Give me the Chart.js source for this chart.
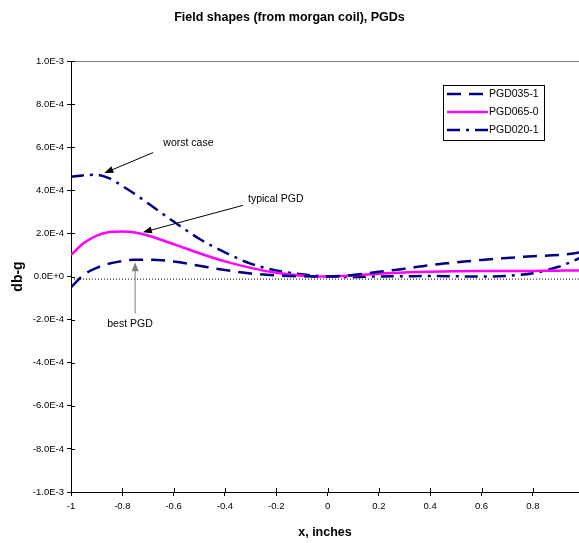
<!DOCTYPE html>
<html>
<head>
<meta charset="utf-8">
<script src="https://cdn.jsdelivr.net/npm/chart.js@4.4.1/dist/chart.umd.min.js"></script>
<style>
  html, body { margin: 0; padding: 0; background: #fff; }
  canvas { display: block; }
</style>
</head>
<body>
<canvas id="chart" width="579" height="543"></canvas>
<script>
const FONT = '"Liberation Sans", Arial, sans-serif';

const X_VALUES = [-1, -0.95, -0.9, -0.85, -0.8, -0.75, -0.7, -0.6, -0.5, -0.4, -0.3, -0.2, -0.1,
  0, 0.1, 0.2, 0.3, 0.4, 0.5, 0.6, 0.7, 0.8, 0.9, 0.95, 1];

const PGD035_1 = [-5.0e-5, 8e-6, 4.0e-5, 6.0e-5, 7.2e-5, 7.8e-5, 7.8e-5, 7.0e-5, 5.0e-5, 3.0e-5, 1.4e-5, 5e-6, 1e-6,
  0, 7e-6, 2.2e-5, 3.6e-5, 5.3e-5, 6.5e-5, 7.7e-5, 8.6e-5, 9.4e-5, 1.0e-4, 1.06e-4, 1.15e-4];
const PGD065_0 = [1.0e-4, 1.55e-4, 1.9e-4, 2.06e-4, 2.09e-4, 2.04e-4, 1.9e-4, 1.5e-4, 1.08e-4, 7.0e-5, 4.0e-5, 1.7e-5, 4e-6,
  0, 5e-6, 1.3e-5, 1.9e-5, 2.2e-5, 2.4e-5, 2.5e-5, 2.5e-5, 2.6e-5, 2.7e-5, 2.8e-5, 2.8e-5];
const PGD020_1 = [4.62e-4, 4.7e-4, 4.72e-4, 4.55e-4, 4.2e-4, 3.82e-4, 3.4e-4, 2.55e-4, 1.75e-4, 1.12e-4, 6.0e-5, 2.8e-5, 1.0e-5,
  0, -2e-6, 0, 1e-6, 2e-6, 1e-6, 0, 3e-6, 1.5e-5, 4.5e-5, 6.8e-5, 9.5e-5];

// dotted reference line just under zero
const REF_X = [-1, 1];
const REF_Y = [-1.2e-5, -1.2e-5];

const X_TICKS = [-1, -0.8, -0.6, -0.4, -0.2, 0, 0.2, 0.4, 0.6, 0.8];
const Y_TICKS = [-1e-3, -8e-4, -6e-4, -4e-4, -2e-4, 0, 2e-4, 4e-4, 6e-4, 8e-4, 1e-3];

// annotation text + arrow (tail -> head), in data units
const NOTES = [
  { text: "worst case", at: [-0.64, 6.2e-4], from: [-0.68, 5.75e-4], to: [-0.87, 4.8e-4], color: "#000" },
  { text: "typical PGD", at: [-0.31, 3.6e-4], from: [-0.33, 3.3e-4], to: [-0.72, 2.05e-4], color: "#000" },
  { text: "best PGD", at: [-0.77, -2.2e-4], from: [-0.75, -1.72e-4], to: [-0.75, 6.6e-5], color: "#808080" },
];

function pts(ys, xs) {
  return ys.map((y, i) => ({ x: xs[i], y }));
}

function fmtExp(v) {
  const r = Math.round(v * 1e6) / 1e6;
  return r.toExponential(1).toUpperCase();
}

function arrow(ctx, x1, y1, x2, y2, color) {
  const ang = Math.atan2(y2 - y1, x2 - x1);
  const len = 9, half = 3.5;
  ctx.strokeStyle = color;
  ctx.fillStyle = color;
  ctx.lineWidth = 1;
  ctx.setLineDash([]);
  ctx.beginPath();
  ctx.moveTo(x1, y1);
  ctx.lineTo(x2 - Math.cos(ang) * len * 0.8, y2 - Math.sin(ang) * len * 0.8);
  ctx.stroke();
  ctx.beginPath();
  ctx.moveTo(x2, y2);
  ctx.lineTo(x2 - Math.cos(ang) * len - Math.sin(ang) * half, y2 - Math.sin(ang) * len + Math.cos(ang) * half);
  ctx.lineTo(x2 - Math.cos(ang) * len + Math.sin(ang) * half, y2 - Math.sin(ang) * len - Math.cos(ang) * half);
  ctx.closePath();
  ctx.fill();
}

const axisExtras = {
  id: "axisExtras",
  afterDatasetsDraw(chart) {
    const { ctx, chartArea: a, scales: { x, y } } = chart;
    ctx.save();
    // top border of plot area
    ctx.strokeStyle = "#808080";
    ctx.lineWidth = 1;
    ctx.beginPath();
    ctx.moveTo(a.left, a.top + 0.5);
    ctx.lineTo(a.right, a.top + 0.5);
    ctx.stroke();
    // inner half of crossing tick marks
    ctx.strokeStyle = "#000";
    ctx.beginPath();
    X_TICKS.forEach((v) => {
      const px = Math.round(x.getPixelForValue(v)) + 0.5;
      ctx.moveTo(px, a.bottom);
      ctx.lineTo(px, a.bottom - 4);
    });
    Y_TICKS.forEach((v) => {
      const py = Math.round(y.getPixelForValue(v)) + 0.5;
      ctx.moveTo(a.left, py);
      ctx.lineTo(a.left + 4, py);
    });
    ctx.stroke();

    // annotations
    ctx.font = "10.5px " + FONT;
    ctx.textBaseline = "middle";
    NOTES.forEach((n) => {
      ctx.fillStyle = "#000";
      ctx.textAlign = n.text === "best PGD" ? "center" : "left";
      ctx.fillText(n.text, x.getPixelForValue(n.at[0]), y.getPixelForValue(n.at[1]));
      arrow(ctx, x.getPixelForValue(n.from[0]), y.getPixelForValue(n.from[1]),
        x.getPixelForValue(n.to[0]), y.getPixelForValue(n.to[1]), n.color);
    });
    ctx.restore();
  },
  afterDraw(chart) {
    // legend box
    const { ctx } = chart;
    const bx = 443.5, by = 85.5, bw = 101, bh = 55;
    ctx.save();
    ctx.fillStyle = "#fff";
    ctx.fillRect(bx, by, bw, bh);
    ctx.strokeStyle = "#000";
    ctx.lineWidth = 1;
    ctx.setLineDash([]);
    ctx.strokeRect(bx, by, bw, bh);
    ctx.font = "10.5px " + FONT;
    ctx.textAlign = "left";
    ctx.textBaseline = "middle";
    chart.data.datasets.filter((d) => d.label).forEach((d, i) => {
      const ry = 94 + i * 18;
      ctx.strokeStyle = d.borderColor;
      ctx.lineWidth = d.borderWidth;
      ctx.setLineDash(d.borderDash || []);
      ctx.beginPath();
      ctx.moveTo(447, ry);
      ctx.lineTo(488, ry);
      ctx.stroke();
      ctx.fillStyle = "#000";
      ctx.fillText(d.label, 489, ry + 0.5);
    });
    ctx.restore();
  },
};

Chart.defaults.font.family = FONT;
Chart.defaults.color = "#000";

new Chart(document.getElementById("chart"), {
  type: "line",
  data: {
    datasets: [
      {
        label: "PGD035-1",
        data: pts(PGD035_1, X_VALUES),
        borderColor: "#000080",
        borderWidth: 2.5,
        borderDash: [14, 8],
      },
      {
        label: "PGD065-0",
        data: pts(PGD065_0, X_VALUES),
        borderColor: "#FF00FF",
        borderWidth: 2.5,
      },
      {
        label: "PGD020-1",
        data: pts(PGD020_1, X_VALUES),
        borderColor: "#000080",
        borderWidth: 2.5,
        borderDash: [13, 6, 3, 6],
      },
      {
        label: "",
        data: pts(REF_Y, REF_X),
        borderColor: "#000",
        borderWidth: 1,
        borderDash: [1, 2],
        tension: 0,
      },
    ],
  },
  plugins: [axisExtras],
  options: {
    responsive: false,
    animation: false,
    devicePixelRatio: 1,
    cubicInterpolationMode: "monotone",
    elements: { point: { radius: 0 }, line: { fill: false } },
    layout: { padding: 0 },
    plugins: {
      legend: { display: false },
      tooltip: { enabled: false },
      title: {
        display: true,
        text: "Field shapes (from morgan coil), PGDs",
        color: "#000",
        font: { size: 12.5, weight: "bold", family: FONT },
        padding: { top: 10, bottom: 36 },
      },
    },
    scales: {
      x: {
        type: "linear",
        min: -1,
        max: 0.98,
        afterBuildTicks: (s) => { s.ticks = X_TICKS.map((v) => ({ value: v })); },
        afterFit: (s) => { s.height = 51; },
        ticks: {
          autoSkip: false,
          maxRotation: 0,
          padding: 5,
          font: { size: 9.5 },
          color: "#000",
          callback: (v) => String(v),
        },
        grid: { display: true, drawOnChartArea: false, drawTicks: true, tickLength: 4, tickColor: "#000", color: "#000" },
        border: { display: true, color: "#000", width: 1 },
        title: {
          display: true,
          text: "x, inches",
          color: "#000",
          font: { size: 12.5, weight: "bold" },
          padding: { top: 0, bottom: 3 },
        },
      },
      y: {
        type: "linear",
        min: -1e-3,
        max: 1e-3,
        afterBuildTicks: (s) => { s.ticks = Y_TICKS.map((v) => ({ value: v })); },
        afterFit: (s) => { s.width = 71; },
        ticks: {
          autoSkip: false,
          padding: 3,
          font: { size: 9.5 },
          color: "#000",
          callback: (v) => fmtExp(v),
        },
        grid: { display: true, drawOnChartArea: false, drawTicks: true, tickLength: 4, tickColor: "#000", color: "#000" },
        border: { display: true, color: "#000", width: 1 },
        title: {
          display: true,
          text: "db-g",
          color: "#000",
          font: { size: 14, weight: "bold" },
          padding: { top: 10, bottom: 0 },
        },
      },
    },
  },
});
</script>
</body>
</html>
